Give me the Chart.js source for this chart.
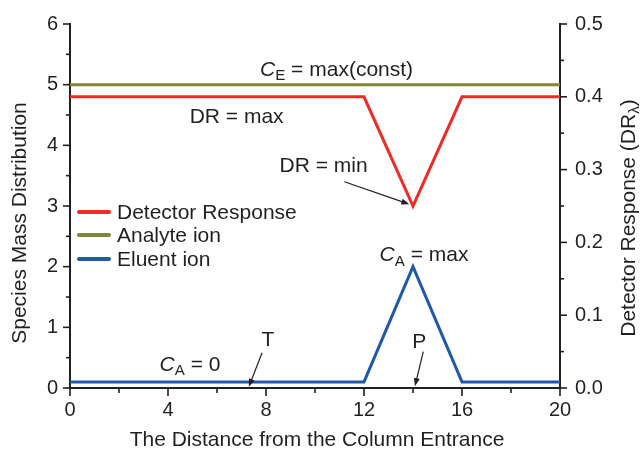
<!DOCTYPE html>
<html>
<head>
<meta charset="utf-8">
<script src="https://cdn.jsdelivr.net/npm/chart.js@4.4.1/dist/chart.umd.min.js"></script>
<style>
  html, body { margin: 0; padding: 0; background: #fff; }
  #wrap { width: 644px; height: 453px; position: relative; }
</style>
</head>
<body>
<div id="wrap"><canvas id="chart" width="644" height="453"></canvas></div>
<script>
// Distance along the column and the three species profiles
const distance = [0, 12, 14, 16, 20];
const detectorResponse = [0.4, 0.4, 0.25, 0.4, 0.4]; // right axis (DR)
const analyteIon = [5, 5, 5, 5, 5];                  // left axis
const eluentIon = [0.1, 0.1, 2, 0.1, 0.1];           // left axis

const seriesNames = ['Detector Response', 'Analyte ion', 'Eluent ion'];
const seriesColors = ['#ee2b24', '#7f8638', '#1f5aa8'];

const xTitle = 'The Distance from the Column Entrance';
const yTitle = 'Species Mass Distribution';

const FONT = '"Liberation Sans", Arial, Helvetica, sans-serif';
const INK = '#231f20';
const TEXT_SIZE = 21;

const pts = ys => distance.map((d, i) => ({ x: d, y: ys[i] }));

// Text annotations placed in data coordinates (left axis units)
const notes = [
  { parts: [{ t: 'C', it: true }, { t: 'E', sub: true }, { t: ' = max(const)' }], x: 10.88, y: 5.27 },
  { parts: [{ t: 'DR = max' }], x: 6.8, y: 4.5 },
  { parts: [{ t: 'DR = min' }], x: 10.35, y: 3.69 },
  { parts: [{ t: 'C', it: true }, { t: 'A', sub: true }, { t: ' = max' }], x: 14.45, y: 2.21 },
  { parts: [{ t: 'C', it: true }, { t: 'A', sub: true }, { t: ' = 0' }], x: 4.9, y: 0.41 },
  { parts: [{ t: 'T' }], x: 8.08, y: 0.81 },
  { parts: [{ t: 'P' }], x: 14.26, y: 0.79 }
];
const arrows = [
  { from: [11.2, 3.40], to: [13.85, 3.03] },
  { from: [7.84, 0.58], to: [7.3, 0.02] },
  { from: [14.42, 0.60], to: [14.08, 0.03] }
];

function drawRich(ctx, parts, cx, cy, size) {
  const segs = parts.map(p => {
    const fs = p.sub ? size * 0.72 : size;
    const f = (p.it ? 'italic ' : '') + fs + 'px ' + FONT;
    ctx.font = f;
    return { p, f, w: ctx.measureText(p.t).width };
  });
  const total = segs.reduce((a, s) => a + s.w, 0);
  let x = cx - total / 2;
  ctx.textBaseline = 'alphabetic';
  ctx.textAlign = 'left';
  const base = cy + size * 0.36;
  segs.forEach(s => {
    ctx.font = s.f;
    ctx.fillText(s.p.t, x, s.p.sub ? base + size * 0.22 : base);
    x += s.w;
  });
}

const decorPlugin = {
  id: 'decor',
  afterDraw(chart) {
    const { ctx, chartArea: a } = chart;
    const sx = chart.scales.x, sy = chart.scales.y, sr = chart.scales.y2;
    ctx.save();
    ctx.strokeStyle = INK;
    ctx.fillStyle = INK;
    ctx.lineWidth = 1.6;

    // outward tick marks, major and minor
    sx.ticks.forEach(t => {
      const px = sx.getPixelForValue(t.value);
      const major = Math.abs(t.value % 4) < 1e-6;
      ctx.beginPath(); ctx.moveTo(px, a.bottom); ctx.lineTo(px, a.bottom + (major ? 8 : 5)); ctx.stroke();
    });
    sy.ticks.forEach(t => {
      const py = sy.getPixelForValue(t.value);
      const major = Math.abs(t.value - Math.round(t.value)) < 1e-6;
      ctx.beginPath(); ctx.moveTo(a.left, py); ctx.lineTo(a.left - (major ? 7 : 4), py); ctx.stroke();
    });
    sr.ticks.forEach(t => {
      const py = sr.getPixelForValue(t.value);
      const major = Math.abs(t.value * 10 - Math.round(t.value * 10)) < 1e-6;
      ctx.beginPath(); ctx.moveTo(a.right, py); ctx.lineTo(a.right + (major ? 7 : 4), py); ctx.stroke();
    });

    // axis titles
    ctx.font = TEXT_SIZE + 'px ' + FONT;
    ctx.textAlign = 'center';
    ctx.textBaseline = 'middle';
    ctx.fillText(xTitle, (a.left + a.right) / 2 + 2, 440);

    ctx.save();
    ctx.translate(20, 223);
    ctx.rotate(-Math.PI / 2);
    ctx.fillText(yTitle, 0, 0);
    ctx.restore();

    ctx.save();
    ctx.translate(627, 218);
    ctx.rotate(-Math.PI / 2);
    drawRich(ctx, [{ t: 'Detector Response (DR' }, { t: 'λ', sub: true }, { t: ')' }], 0, 0, TEXT_SIZE);
    ctx.restore();

    // annotations
    notes.forEach(n => drawRich(ctx, n.parts, sx.getPixelForValue(n.x), sy.getPixelForValue(n.y), TEXT_SIZE));
    ctx.lineWidth = 1.2;
    arrows.forEach(ar => {
      const x1 = sx.getPixelForValue(ar.from[0]), y1 = sy.getPixelForValue(ar.from[1]);
      const x2 = sx.getPixelForValue(ar.to[0]), y2 = sy.getPixelForValue(ar.to[1]);
      const ang = Math.atan2(y2 - y1, x2 - x1);
      const hl = 8, hw = 3;
      ctx.beginPath();
      ctx.moveTo(x1, y1);
      ctx.lineTo(x2 - Math.cos(ang) * hl * 0.8, y2 - Math.sin(ang) * hl * 0.8);
      ctx.stroke();
      ctx.beginPath();
      ctx.moveTo(x2, y2);
      ctx.lineTo(x2 - Math.cos(ang) * hl - Math.sin(ang) * hw, y2 - Math.sin(ang) * hl + Math.cos(ang) * hw);
      ctx.lineTo(x2 - Math.cos(ang) * hl + Math.sin(ang) * hw, y2 - Math.sin(ang) * hl - Math.cos(ang) * hw);
      ctx.closePath();
      ctx.fill();
    });

    // legend
    const legY = [212, 235, 259];
    chart.data.datasets.forEach((ds, i) => {
      ctx.strokeStyle = ds.borderColor;
      ctx.lineWidth = 4;
      ctx.lineCap = 'round';
      ctx.beginPath(); ctx.moveTo(79, legY[i]); ctx.lineTo(109, legY[i]); ctx.stroke();
      ctx.fillStyle = INK;
      ctx.font = TEXT_SIZE + 'px ' + FONT;
      ctx.textAlign = 'left';
      ctx.textBaseline = 'middle';
      ctx.fillText(ds.label, 117, legY[i] + 1);
    });
    ctx.restore();
  }
};

const gridOpts = { display: true, drawOnChartArea: false, drawTicks: true, tickLength: 7, color: 'rgba(0,0,0,0)' };
const borderOpts = { display: true, color: INK, width: 2 };
const tickFont = { family: FONT, size: 20 };

new Chart(document.getElementById('chart'), {
  type: 'line',
  data: {
    datasets: [
      { label: seriesNames[0], data: pts(detectorResponse), yAxisID: 'y2', borderColor: seriesColors[0] },
      { label: seriesNames[1], data: pts(analyteIon), yAxisID: 'y', borderColor: seriesColors[1] },
      { label: seriesNames[2], data: pts(eluentIon), yAxisID: 'y', borderColor: seriesColors[2] }
    ].map(d => Object.assign(d, { borderWidth: 3, pointRadius: 0, tension: 0, fill: false, clip: false }))
  },
  options: {
    responsive: false,
    animation: false,
    layout: { padding: { top: 24, left: 0, right: 0, bottom: 0 } },
    plugins: { legend: { display: false }, tooltip: { enabled: false } },
    scales: {
      x: {
        type: 'linear', min: 0, max: 20,
        grid: Object.assign({}, gridOpts, { tickLength: 8 }),
        border: borderOpts,
        ticks: {
          stepSize: 2, color: INK, font: tickFont, padding: 2, maxRotation: 0, autoSkip: false,
          callback: v => (Math.abs(v % 4) < 1e-6 ? String(v) : '')
        },
        afterFit: s => { s.height = 65; }
      },
      y: {
        type: 'linear', position: 'left', min: 0, max: 6,
        grid: gridOpts,
        border: borderOpts,
        ticks: {
          stepSize: 0.5, color: INK, font: tickFont, padding: 5, autoSkip: false,
          callback: v => (Math.abs(v - Math.round(v)) < 1e-6 ? String(Math.round(v)) : '')
        },
        afterFit: s => { s.width = 70; }
      },
      y2: {
        type: 'linear', position: 'right', min: 0, max: 0.5,
        grid: gridOpts,
        border: borderOpts,
        ticks: {
          stepSize: 0.05, color: INK, font: tickFont, padding: 8, autoSkip: false,
          callback: v => (Math.abs(v * 10 - Math.round(v * 10)) < 1e-6 ? v.toFixed(1) : '')
        },
        afterFit: s => { s.width = 84; }
      }
    }
  },
  plugins: [decorPlugin]
});
</script>
</body>
</html>
